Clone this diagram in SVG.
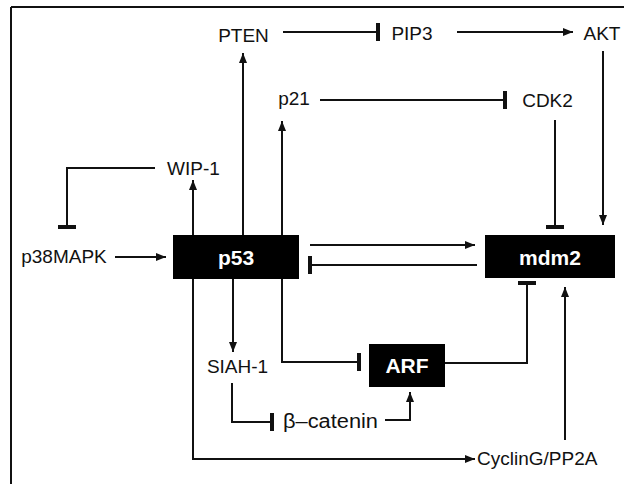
<svg xmlns="http://www.w3.org/2000/svg" width="625" height="484" viewBox="0 0 625 484">
<style>
.lbl{font-family:"Liberation Sans",Arial,sans-serif;font-size:19px;fill:#111;text-anchor:middle}
.box{fill:#000}
.bt{font-family:"Liberation Sans",Arial,sans-serif;font-size:21px;font-weight:bold;fill:#fff;text-anchor:middle}
.c{fill:none;stroke:#111;stroke-width:2}
.act{marker-end:url(#arr)}
.inh{marker-end:url(#tee)}
</style>
<defs>
<marker id="arr" viewBox="0 0 10 8" refX="10" refY="4" markerWidth="10" markerHeight="8" markerUnits="userSpaceOnUse" orient="auto"><path d="M0,0 L10,4 L0,8 z" fill="#111"/></marker>
<marker id="tee" viewBox="0 0 4 18" refX="2" refY="9" markerWidth="4" markerHeight="18" markerUnits="userSpaceOnUse" orient="auto"><rect width="4" height="18" fill="#111"/></marker>
</defs>
<rect width="625" height="484" fill="#fff"/>
<path d="M11,7 H624 M11,7 V484" fill="none" stroke="#111" stroke-width="2"/>
<g id="connectors">
<path class="c act" d="M115,257 H166"/>
<path class="c act" d="M193,235 V180"/>
<path class="c act" d="M243,235 V53"/>
<path class="c act" d="M282,235 V121"/>
<path class="c inh" d="M155,168 H67 V227"/>
<path class="c inh" d="M283,32 H378"/>
<path class="c act" d="M457,32 H573"/>
<path class="c inh" d="M320,100 H505"/>
<path class="c inh" d="M555,120 V227"/>
<path class="c act" d="M603,51 V225"/>
<path class="c act" d="M310,245 H475"/>
<path class="c inh" d="M477,265 H310"/>
<path class="c act" d="M233,279 V352"/>
<path class="c inh" d="M282,279 V362 H359"/>
<path class="c inh" d="M232,383 V422 H272"/>
<path class="c act" d="M385,420 H410 V392"/>
<path class="c inh" d="M445,363 H527 V283"/>
<path class="c act" d="M193,279 V459 H475"/>
<path class="c act" d="M565,440 V287"/>
</g>
<g id="p53"><rect class="box" x="173" y="235" width="126" height="44"/><text class="bt" x="236" y="265">p53</text></g>
<g id="mdm2"><rect class="box" x="485" y="235" width="130" height="43"/><text class="bt" x="550" y="265">mdm2</text></g>
<g id="ARF"><rect class="box" x="369" y="344" width="76" height="43"/><text class="bt" x="407" y="373">ARF</text></g>
<g id="PTEN"><text class="lbl" x="243.5" y="42">PTEN</text></g>
<g id="PIP3"><text class="lbl" x="412" y="40">PIP3</text></g>
<g id="AKT"><text class="lbl" x="602" y="40">AKT</text></g>
<g id="p21"><text class="lbl" x="294" y="105">p21</text></g>
<g id="CDK2"><text class="lbl" x="547.5" y="107">CDK2</text></g>
<g id="WIP-1"><text class="lbl" x="193.5" y="175">WIP-1</text></g>
<g id="p38MAPK"><text class="lbl" x="64" y="263">p38MAPK</text></g>
<g id="SIAH-1"><text class="lbl" x="237.5" y="373">SIAH-1</text></g>
<g id="beta-catenin"><text class="lbl" x="283" y="428" style="text-anchor:start;font-size:20px" textLength="95" lengthAdjust="spacingAndGlyphs">β–catenin</text></g>
<g id="CyclinG-PP2A"><text class="lbl" x="477" y="465" style="text-anchor:start">CyclinG/PP2A</text></g>
</svg>
